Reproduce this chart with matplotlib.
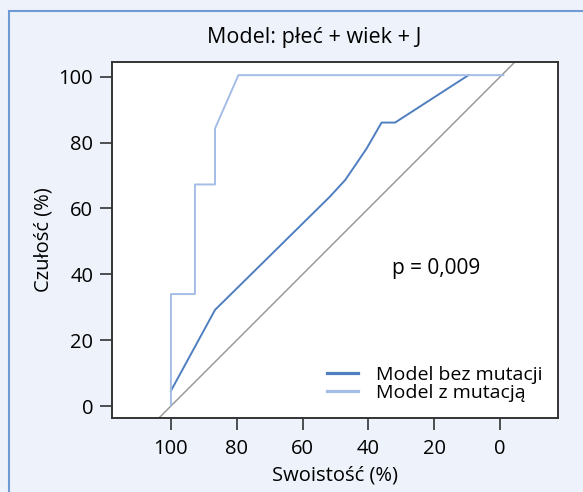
import matplotlib
matplotlib.use("Agg")
import matplotlib.pyplot as plt
from matplotlib.patches import Rectangle

plt.rcParams['font.family'] = ['Open Sans', 'DejaVu Sans']

# Data (specificity %, sensitivity %)
spec_bez = [100, 86.6, 51.7, 47.1, 43.6, 40.5, 36.0, 31.9, 9.6]
sens_bez = [4.6, 29.2, 63.6, 68.6, 73.7, 78.3, 86.1, 86.1, 100.5]
spec_z = [100, 100, 92.7, 92.7, 86.6, 86.6, 79.5, -1]
sens_z = [0.2, 34.0, 34.0, 67.3, 67.3, 84.3, 100.5, 100.5]
diag_spec = [120, -20]
diag_sens = [-20, 120]

title = "Model: płeć + wiek + J"
xlabel = "Swoistość (%)"
ylabel = "Czułość (%)"
xticks = [100, 80, 60, 40, 20, 0]
yticks = [0, 20, 40, 60, 80, 100]
labels = ["Model bez mutacji", "Model z mutacją"]
ptext = "p = 0,009"

W, H = 583, 492
fig = plt.figure(figsize=(W / 100, H / 100), dpi=100)
bg = '#eef2fa'
fig.patch.set_facecolor(bg)
fig.patches.append(Rectangle((9 / W, -0.1), 1.2, 1 - 11 / H + 0.1, transform=fig.transFigure,
                             facecolor='none', edgecolor='#6f9ad6', linewidth=1.5))

ax = fig.add_axes([112 / W, 1 - 417.7 / H, (558 - 112) / W, (417.7 - 62) / H])
ax.set_facecolor('white')

c_dark = '#4f7fc0'
c_light = '#a3bde6'
ax.plot(diag_spec, diag_sens, color='#9a9a9a', lw=1.1, zorder=1)
l1, = ax.plot(spec_bez, sens_bez, color=c_dark, lw=1.4, zorder=2)
l2, = ax.plot(spec_z, sens_z, color=c_light, lw=1.4, zorder=3)

ax.set_xlim(117.9, -17.6)
ax.set_ylim(-3.55, 104.5)
ax.set_xticks(xticks)
ax.set_yticks(yticks)
ax.tick_params(length=8.5, width=1.1, labelsize=14.5, color='#222222')
ax.tick_params(axis='x', pad=6.5)
ax.tick_params(axis='y', pad=5)
for s in ax.spines.values():
    s.set_linewidth(1.4)
    s.set_color('#333333')

fig.text(335 / W, 1 - 475 / H, xlabel, fontsize=14.5, ha='center', va='center')
fig.text(43.3 / W, 1 - 240 / H, ylabel, fontsize=14.5, ha='center', va='center', rotation=90)
fig.text(314 / W, 1 - 38 / H, title, fontsize=15.5, ha='center', va='center')

ax.text(32.9, 41.9, ptext, fontsize=15, ha='left', va='center')

leg = ax.legend([l1, l2], labels, loc='lower right', frameon=False, fontsize=14,
                handlelength=1.6, handletextpad=0.9, labelspacing=0.0,
                borderaxespad=0.0, borderpad=0.0, bbox_to_anchor=(0.965, 0.045))
for h in leg.get_lines():
    h.set_linewidth(2.3)

fig.savefig("out.png", dpi=100, facecolor=bg)
